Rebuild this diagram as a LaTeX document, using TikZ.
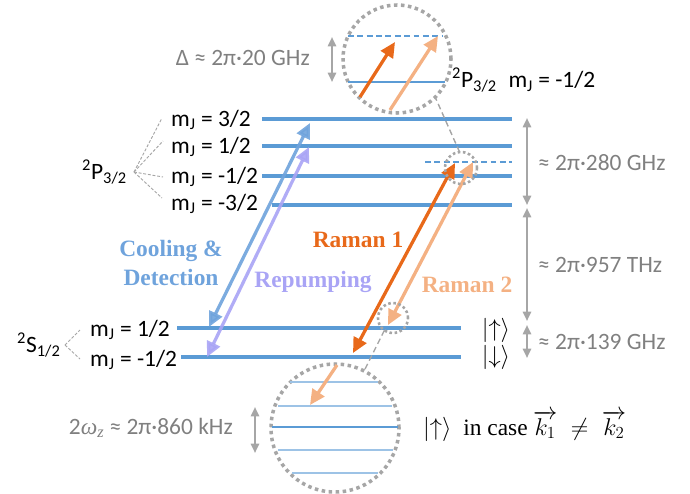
\documentclass[tikz,border=0pt]{standalone}
\usepackage{fontspec}
\setmainfont{Carlito}
\newfontfamily\tnr{Liberation Serif}
\usetikzlibrary{arrows.meta}
\definecolor{lvl}{HTML}{5B9BD5}
\definecolor{lvllight}{HTML}{9DC3E6}
\definecolor{cool}{HTML}{6FA3DC}
\definecolor{repump}{HTML}{A9A4F5}
\definecolor{ramA}{HTML}{E8691A}
\definecolor{ramB}{HTML}{F4B183}
\definecolor{gr}{HTML}{A6A6A6}
\definecolor{grtext}{HTML}{808080}
\tikzset{
  level/.style={draw=lvl, line width=2.6pt},
  thinlevel/.style={draw=lvl, line width=1.3pt},
  faintlevel/.style={draw=lvllight, line width=1pt},
  virt/.style={draw=lvl, line width=1.4pt, dash pattern=on 5pt off 3pt},
  beam/.style={line width=2.8pt, {Triangle[length=13pt,width=12pt]}-{Triangle[length=13pt,width=12pt]}},
  onebeam/.style={line width=2.8pt, -{Triangle[length=13pt,width=12pt]}},
  gap/.style={draw=gr, line width=1.8pt, {Triangle[length=8pt,width=7pt]}-{Triangle[length=8pt,width=7pt]}},
  bigdot/.style={circle, draw=gr, line width=3pt, dash pattern=on 3pt off 3pt, inner sep=0pt, outer sep=0pt},
  smalldot/.style={circle, draw=gr, line width=2.2pt, dash pattern=on 2.2pt off 2.2pt, inner sep=0pt, outer sep=0pt},
  conn/.style={draw=gr, line width=1.2pt, dash pattern=on 5pt off 3pt},
  fan/.style={draw=gr, line width=0.8pt, dash pattern=on 2.5pt off 1.5pt},
  lbl/.style={inner sep=0pt},
  glbl/.style={inner sep=0pt, text=grtext},
  blbl/.style={inner sep=0pt, font=\fontsize{20}{25}\selectfont\tnr\bfseries, align=center}
}
\begin{document}
\begin{tikzpicture}[x=0.03cm, y=-0.03cm, font=\fontsize{20}{24}\selectfont]
\useasboundingbox (0,0) rectangle (690,493);

% P levels
\coordinate (p3a) at (262,119); \coordinate (p3b) at (512,119);
\coordinate (p1a) at (262,146); \coordinate (p1b) at (512,146);
\coordinate (pm1a) at (262,176); \coordinate (pm1b) at (512,176);
\coordinate (pm3a) at (272,205); \coordinate (pm3b) at (512,205);
\coordinate (va) at (425,162); \coordinate (vb) at (512,162);
\draw[level] (p3a) -- (p3b);
\draw[level] (p1a) -- (p1b);
\draw[level] (pm1a) -- (pm1b);
\draw[level] (pm3a) -- (pm3b);
\draw[virt] (va) -- (vb);

% S levels
\coordinate (s1a) at (177,328); \coordinate (s1b) at (461,328);
\coordinate (s2a) at (181,357); \coordinate (s2b) at (461,357);
\draw[level] (s1a) -- (s1b);
\draw[level] (s2a) -- (s2b);

% labels P
\node[lbl, anchor=west] (lp3) at (171,120) {m\textsubscript{J} = 3/2};
\node[lbl, anchor=west] (lp1) at (171,147) {m\textsubscript{J} = 1/2};
\node[lbl, anchor=west] (lpm1) at (171,177) {m\textsubscript{J} = -1/2};
\node[lbl, anchor=west] (lpm3) at (171,204) {m\textsubscript{J} = -3/2};
\node[lbl, anchor=west] (pterm) at (82,172) {\textsuperscript{2}P\textsubscript{3/2}};
\coordinate (pf) at (134,172);
\coordinate (pf1) at (162,118); \coordinate (pf2) at (163,141);
\coordinate (pf3) at (163,177); \coordinate (pf4) at (162,198);
\draw[fan] (pf) -- (pf1); \draw[fan] (pf) -- (pf2);
\draw[fan] (pf) -- (pf3); \draw[fan] (pf) -- (pf4);

% labels S
\node[lbl, anchor=west] (ls1) at (90,330) {m\textsubscript{J} = 1/2};
\node[lbl, anchor=west] (ls2) at (90,360) {m\textsubscript{J} = -1/2};
\node[lbl, anchor=west] (sterm) at (17,345) {\textsuperscript{2}S\textsubscript{1/2}};
\coordinate (sf) at (65,345);
\coordinate (sf1) at (80,330); \coordinate (sf2) at (80,359);
\draw[fan] (sf) -- (sf1); \draw[fan] (sf) -- (sf2);

% cooling and repumping
\coordinate (cA) at (209,327); \coordinate (cB) at (310,123);
\coordinate (rA) at (207,357); \coordinate (rB) at (309,147);
\draw[beam, draw=cool, fill=cool, opacity=0.9] (cA) -- (cB);
\draw[beam, draw=repump, fill=repump, opacity=0.9] (rA) -- (rB);
\node[blbl, text=cool] (cooltxt) at (171,263) {Cooling \&\\Detection};
\node[blbl, text=repump] (reptxt) at (313,282) {Repumping};

% Raman beams
\coordinate (r1A) at (353,353); \coordinate (r1B) at (455,163);
\coordinate (r2A) at (388,325); \coordinate (r2B) at (473,162);
\draw[beam, draw=ramA, fill=ramA] (r1A) -- (r1B);
\draw[beam, draw=ramB, fill=ramB] (r2A) -- (r2B);
\node[blbl, text=ramA] (r1txt) at (358,240) {Raman 1};
\node[blbl, text=ramB] (r2txt) at (467,285) {Raman 2};

% small circles
\node[smalldot, minimum size=0.96cm] (smalltop) at (461,168) {};
\node[smalldot, minimum size=0.9cm] (smallbot) at (393,318) {};

% big top circle
\node[bigdot, minimum size=3.24cm] (bigtop) at (397,59) {};
\coordinate (tva) at (348,36); \coordinate (tvb) at (443,36);
\coordinate (tla) at (348,82); \coordinate (tlb) at (445,82);
\draw[virt] (tva) -- (tvb);
\draw[thinlevel] (tla) -- (tlb);
\coordinate (ta1) at (360,97); \coordinate (tb1) at (395,42);
\coordinate (ta2) at (390,110); \coordinate (tb2) at (438,36);
\draw[onebeam, draw=ramA, fill=ramA] (ta1) -- (tb1);
\draw[onebeam, draw=ramB, fill=ramB] (ta2) -- (tb2);
\coordinate (dA) at (332,37); \coordinate (dB) at (332,82);
\draw[gap] (dA) -- (dB);
\node[glbl, anchor=east] (deltatxt) at (310,58) {Δ ≈ 2π·20 GHz};
\node[lbl, anchor=west] (toptxt) at (452,80) {\textsuperscript{2}P\textsubscript{3/2}\enspace m\textsubscript{J} = -1/2};

% big bottom circle
\node[bigdot, minimum size=3.84cm] (bigbot) at (335,428) {};
\coordinate (b1a) at (290,382); \coordinate (b1b) at (378,382);
\coordinate (b2a) at (278,406); \coordinate (b2b) at (392,406);
\coordinate (b3a) at (272,427); \coordinate (b3b) at (398,427);
\coordinate (b4a) at (278,450); \coordinate (b4b) at (393,450);
\coordinate (b5a) at (292,473); \coordinate (b5b) at (378,473);
\draw[faintlevel] (b1a) -- (b1b);
\draw[faintlevel] (b2a) -- (b2b);
\draw[thinlevel] (b3a) -- (b3b);
\draw[faintlevel] (b4a) -- (b4b);
\draw[faintlevel] (b5a) -- (b5b);
\coordinate (ba) at (337,365); \coordinate (bb) at (310,405);
\draw[onebeam, draw=ramB, fill=ramB] (ba) -- (bb);
\coordinate (wA) at (255,407); \coordinate (wB) at (255,453);
\draw[gap] (wA) -- (wB);
\node[glbl, anchor=east] (omtxt) at (233,428) {2{\tnr\itshape ω}\textsubscript{\tnr\itshape z} ≈ 2π·860 kHz};
\node[lbl, anchor=west] (kvec) at (423,426) {$|{\uparrow}\rangle$\enspace{\tnr in case} $\overrightarrow{k_1}\;\neq\;\overrightarrow{k_2}$};

% connectors
\draw[conn] (smalltop.95) -- (bigtop.-45);
\draw[conn] (smallbot.-125) -- (bigbot.63);

% right gap arrows
\coordinate (g1A) at (527,118); \coordinate (g1B) at (527,205);
\coordinate (g2A) at (527,208); \coordinate (g2B) at (527,321);
\coordinate (g3A) at (527,325); \coordinate (g3B) at (527,358);
\draw[gap] (g1A) -- (g1B);
\draw[gap] (g2A) -- (g2B);
\draw[gap] (g3A) -- (g3B);
\node[glbl, anchor=west] (t280) at (538,163) {≈ 2π·280 GHz};
\node[glbl, anchor=west] (t957) at (538,265) {≈ 2π·957 THz};
\node[glbl, anchor=west] (t139) at (538,342) {≈ 2π·139 GHz};
\node[lbl] (up) at (496,330) {$|{\uparrow}\rangle$};
\node[lbl] (down) at (496,357) {$|{\downarrow}\rangle$};
\end{tikzpicture}
\end{document}
